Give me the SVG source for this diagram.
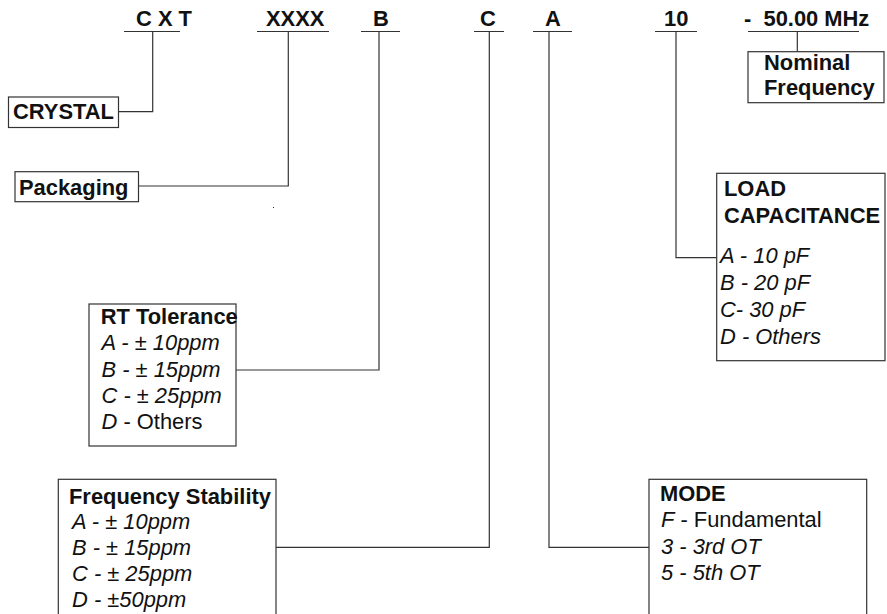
<svg xmlns="http://www.w3.org/2000/svg" width="887" height="614" viewBox="0 0 887 614">
  <style>
    text { font-family: "Liberation Sans", Arial, Helvetica, sans-serif; font-size: 21.9px; fill: #111; }
    .b { font-weight: bold; }
    .i { font-style: italic; }
    .box { fill: #fff; stroke: #333; stroke-width: 1.2; }
    .ln { fill: none; stroke: #333; stroke-width: 1.2; }
  </style>
  <rect width="887" height="614" fill="#fff"/>

  <!-- part-number code segments with their underlines -->
  <g id="code">
    <text class="b" x="136" y="26">C X T</text>
    <text class="b" x="266" y="26">XXXX</text>
    <text class="b" x="373" y="26">B</text>
    <text class="b" x="480" y="26">C</text>
    <text class="b" x="545" y="26">A</text>
    <text class="b" x="664" y="26">10</text>
    <text class="b" x="744" y="26" xml:space="preserve">-  50.00 MHz</text>
    <path class="ln" d="M124 31.5H180M257 31.5H329M361 31.5H400M474 31.5H504M533 31.5H572M655 31.5H697M748 31.5H859"/>
  </g>

  <!-- leader lines from each segment to its description -->
  <g id="connectors">
    <path class="ln" d="M152.7 31.5V111.7H118.5"/>
    <path class="ln" d="M288.3 31.5V186H138.5"/>
    <path class="ln" d="M379 31.5V370H236"/>
    <path class="ln" d="M489.3 31.5V547.3H276"/>
    <path class="ln" d="M549 31.5V547.3H649"/>
    <path class="ln" d="M676 31.5V257.7H716.7"/>
    <path class="ln" d="M797.3 31.5V51.7"/>
  </g>

  <g id="crystal">
    <rect class="box" x="8.5" y="97" width="110" height="30.5"/>
    <text class="b" x="13" y="118.5">CRYSTAL</text>
  </g>

  <g id="packaging">
    <rect class="box" x="15" y="171.7" width="123.5" height="30"/>
    <text class="b" x="19" y="195">Packaging</text>
  </g>

  <g id="nominal-frequency">
    <rect class="box" x="748" y="51.7" width="136" height="51"/>
    <text class="b" x="764" y="70">Nominal</text>
    <text class="b" x="764" y="95">Frequency</text>
  </g>

  <g id="load-capacitance">
    <rect class="box" x="716.7" y="173.3" width="168.3" height="187.4"/>
    <text class="b" x="724" y="195.5">LOAD</text>
    <text class="b" x="724" y="223">CAPACITANCE</text>
    <text class="i" x="720" y="263">A - 10 pF</text>
    <text class="i" x="720" y="290">B - 20 pF</text>
    <text class="i" x="720" y="317">C- 30 pF</text>
    <text class="i" x="720" y="344">D - Others</text>
  </g>

  <g id="rt-tolerance">
    <rect class="box" x="89" y="304" width="147" height="142"/>
    <text class="b" x="100.7" y="324">RT Tolerance</text>
    <text class="i" x="101.5" y="350">A - ± 10ppm</text>
    <text class="i" x="101.5" y="376.5">B - ± 15ppm</text>
    <text class="i" x="101.5" y="403">C - ± 25ppm</text>
    <text x="101.5" y="429"><tspan class="i">D</tspan> - Others</text>
  </g>

  <g id="frequency-stability">
    <rect class="box" x="58.3" y="479.3" width="217.7" height="150"/>
    <text class="b" x="69" y="503.5">Frequency Stability</text>
    <text class="i" x="72" y="529">A - ± 10ppm</text>
    <text class="i" x="72" y="555">B - ± 15ppm</text>
    <text class="i" x="72" y="581">C - ± 25ppm</text>
    <text class="i" x="72" y="607">D - ±50ppm</text>
  </g>

  <g id="mode">
    <rect class="box" x="649" y="479.3" width="217.7" height="150"/>
    <text class="b" x="660" y="501">MODE</text>
    <text x="661" y="527"><tspan class="i">F</tspan> - Fundamental</text>
    <text class="i" x="661" y="553.5">3 - 3rd OT</text>
    <text class="i" x="661" y="580">5 - 5th OT</text>
  </g>

  <!-- stray ink dot -->
  <rect x="273" y="207" width="1" height="1" fill="#222"/>
</svg>
